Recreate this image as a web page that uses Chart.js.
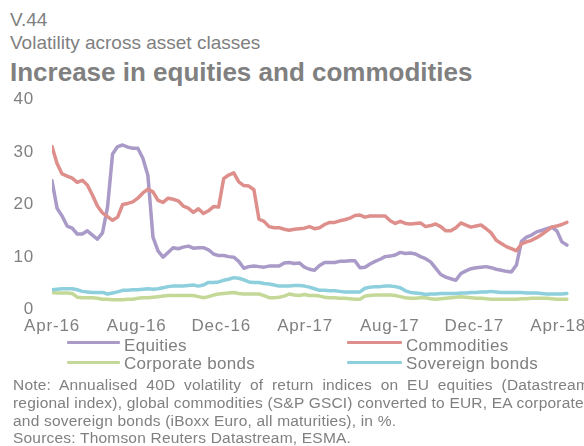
<!DOCTYPE html>
<html>
<head>
<meta charset="utf-8">
<script src="https://cdn.jsdelivr.net/npm/chart.js@4.4.1/dist/chart.umd.min.js"></script>
<style>
  html, body { margin:0; padding:0; background:#fff; }
  body { width:584px; height:446px; overflow:hidden; position:relative;
         font-family:'Liberation Sans', Arial, sans-serif; color:#808080; }
  .t { position:absolute; left:10px; white-space:nowrap; line-height:1; }
  #num   { top:10px; font-size:19px; }
  #sub   { top:33px; font-size:19px; }
  #title { top:59px; font-size:26px; font-weight:bold; }
  #chart { position:absolute; left:0; top:71px; }
  .lg-line { position:absolute; height:3px; border-radius:1px; }
  .lg-txt  { position:absolute; font-size:17px; line-height:20px; white-space:nowrap; letter-spacing:.3px; }
  #note { position:absolute; left:13px; top:376px; width:576px; font-size:15.5px; line-height:17.8px; letter-spacing:.2px; }
  #note div { white-space:nowrap; }
  #note .just { text-align:justify; text-align-last:justify; }
</style>
</head>
<body>
<div class="t" id="num">V.44</div>
<div class="t" id="sub">Volatility across asset classes</div>
<div class="t" id="title">Increase in equities and commodities</div>

<canvas id="chart" width="620" height="267" style="width:620px;height:267px;"></canvas>

<div class="lg-line" style="left:67px;top:341px;width:53px;background:#a99ac8"></div>
<div class="lg-txt"  style="left:124px;top:336px">Equities</div>
<div class="lg-line" style="left:347px;top:341px;width:55px;background:#de8f8b"></div>
<div class="lg-txt"  style="left:406px;top:336px">Commodities</div>
<div class="lg-line" style="left:67px;top:361px;width:53px;background:#c4d898"></div>
<div class="lg-txt"  style="left:124px;top:354px">Corporate bonds</div>
<div class="lg-line" style="left:347px;top:361px;width:55px;background:#8dcfdc"></div>
<div class="lg-txt"  style="left:406px;top:354px">Sovereign bonds</div>

<div id="note">
  <div class="just">Note: Annualised 40D volatility of return indices on EU equities (Datastream</div>
  <div>regional index), global commodities (S&amp;P GSCI) converted to EUR, EA corporate</div>
  <div>and sovereign bonds (iBoxx Euro, all maturities), in %.</div>
  <div>Sources: Thomson Reuters Datastream, ESMA.</div>
</div>

<script>
// roughly weekly readings, starting 1 Apr 2016
const STEP_DAYS = 7.28;
const X_MAX = 760;
const TICK_DAYS   = [0, 122, 244, 365, 487, 609, 730];
const TICK_LABELS = ['Apr-16','Aug-16','Dec-16','Apr-17','Aug-17','Dec-17','Apr-18'];

const EQUITIES = [
  24.5,19.3,17.8,15.9,15.5,14.4,14.4,15.0,14.2,13.4,
  14.6,19.5,29.6,31.0,31.3,30.9,30.7,30.7,28.8,25.5,
  13.8,11.2,10.0,10.9,11.8,11.6,11.9,12.1,11.7,11.8,
  11.8,11.4,10.6,10.3,10.3,10.1,10.0,9.2,7.9,8.2,
  8.3,8.2,8.1,8.3,8.3,8.3,8.9,9.0,8.8,8.9,
  8.1,7.7,7.5,8.4,9.0,9.0,9.0,9.2,9.2,9.3,
  9.3,8.0,8.1,8.7,9.2,9.6,10.1,10.2,10.4,10.9,
  10.7,10.8,10.6,10.1,9.7,9.1,7.9,6.7,6.2,5.9,
  5.6,6.9,7.4,7.8,8.0,8.1,8.2,8.0,7.7,7.5,
  7.3,7.2,8.5,13.0,13.8,14.2,14.8,15.1,15.4,15.7,
  15.0,12.9,12.3
];
const COMMODITIES = [
  31.0,27.8,25.8,25.4,25.0,24.2,24.6,23.7,21.8,19.7,
  18.4,17.7,17.0,17.6,20.0,20.2,20.5,21.2,22.2,22.9,
  22.4,20.8,20.4,21.2,21.0,20.7,19.7,19.3,18.5,19.2,
  18.3,18.8,19.6,19.5,24.9,25.6,26.0,24.3,23.6,23.5,
  22.8,17.2,16.8,15.8,15.6,15.6,15.3,15.1,15.3,15.4,
  15.5,15.8,15.4,15.6,16.2,16.6,16.6,16.9,17.1,17.4,
  17.9,18.0,17.6,17.8,17.8,17.8,17.8,16.9,16.4,16.8,
  16.4,16.3,16.4,16.5,15.8,16.0,16.3,15.8,15.0,15.0,
  15.6,16.5,16.1,15.7,15.9,16.1,15.4,14.6,13.2,12.6,
  12.0,11.6,11.2,12.5,12.9,13.2,13.7,14.3,15.0,15.7,
  15.9,16.2,16.6
];
const CORPORATE = [
  3.3,3.2,3.2,3.2,3.1,2.4,2.3,2.3,2.3,2.2,
  2.0,2.0,1.9,1.9,1.9,2.0,2.0,2.2,2.3,2.3,
  2.4,2.5,2.6,2.7,2.7,2.7,2.7,2.7,2.7,2.5,
  2.3,2.5,2.8,3.0,3.1,3.2,3.3,3.1,3.0,3.0,
  3.0,3.0,2.7,2.3,2.3,2.4,2.6,3.0,2.8,2.7,
  2.9,2.7,2.7,2.6,2.4,2.3,2.3,2.2,2.2,2.1,
  2.0,2.0,2.6,2.7,2.8,2.8,2.8,2.8,2.7,2.5,
  2.3,2.2,2.2,2.3,2.3,2.1,2.0,2.1,2.2,2.3,
  2.4,2.5,2.4,2.3,2.2,2.2,2.1,2.0,2.0,2.0,
  2.0,2.0,2.0,2.1,2.1,2.2,2.2,2.2,2.2,2.1,
  2.0,2.0,2.0
];
const SOVEREIGN = [
  3.8,3.9,4.0,4.0,4.0,3.8,3.5,3.4,3.3,3.3,
  3.3,3.0,3.2,3.4,3.7,3.7,3.8,3.8,3.9,4.0,
  3.9,4.0,4.2,4.4,4.5,4.5,4.5,4.6,4.7,4.5,
  4.7,5.2,5.2,5.3,5.6,5.8,6.1,6.0,5.7,5.3,
  5.2,5.2,5.0,4.9,4.7,4.5,4.5,4.5,4.6,4.6,
  4.5,4.3,4.0,3.7,3.7,3.6,3.6,3.5,3.4,3.4,
  3.4,3.4,4.1,4.3,4.4,4.4,4.5,4.5,4.4,4.2,
  3.6,3.3,3.2,3.1,2.9,3.0,3.0,3.1,3.1,3.1,
  3.1,3.2,3.2,3.3,3.3,3.4,3.4,3.5,3.4,3.3,
  3.3,3.3,3.3,3.3,3.2,3.2,3.2,3.1,3.0,3.0,
  3.0,3.0,3.1
];

const GREY = '#808080';
const FONT = {family:"'Liberation Sans', Arial, sans-serif", size:17};

const pts = arr => arr.map((v, i) => ({x: i * STEP_DAYS, y: v}));
const serie = (label, arr, color, order) => ({
  label, data: pts(arr), borderColor: color, backgroundColor: color,
  borderWidth: 3.5, pointRadius: 0, tension: 0, order,
  borderJoinStyle: 'round', borderCapStyle: 'round'
});

// slightly wider tick text, like the source figure
const spacing = {id: 'spacing', beforeDraw: c => { c.ctx.letterSpacing = '0.8px'; }};

new Chart(document.getElementById('chart'), {
  type: 'line',
  data: {datasets: [
    serie('Equities',        EQUITIES,    '#a99ac8', 4),
    serie('Commodities',     COMMODITIES, '#de8f8b', 3),
    serie('Corporate bonds', CORPORATE,   '#c4d898', 2),
    serie('Sovereign bonds', SOVEREIGN,   '#8dcfdc', 1)
  ]},
  plugins: [spacing],
  options: {
    responsive: false, animation: false, devicePixelRatio: 1,
    layout: {padding: {top: 10, right: 41, bottom: 0, left: 0}},
    plugins: {legend: {display: false}, tooltip: {enabled: false}},
    scales: {
      x: {
        type: 'linear', min: 0, max: X_MAX,
        grid: {display: false, drawTicks: false}, border: {display: false},
        afterBuildTicks: s => { s.ticks = TICK_DAYS.map(v => ({value: v})); },
        afterFit: s => { s.height = 28; },
        ticks: {
          color: GREY, font: FONT, padding: 6, autoSkip: false, maxRotation: 0,
          callback: v => TICK_LABELS[TICK_DAYS.indexOf(v)] ?? ''
        }
      },
      y: {
        min: 0, max: 40,
        grid: {display: false, drawTicks: false}, border: {display: false},
        afterFit: s => { s.width = 52; },
        ticks: {color: GREY, font: FONT, padding: 18, stepSize: 10}
      }
    }
  }
});
</script>
</body>
</html>
